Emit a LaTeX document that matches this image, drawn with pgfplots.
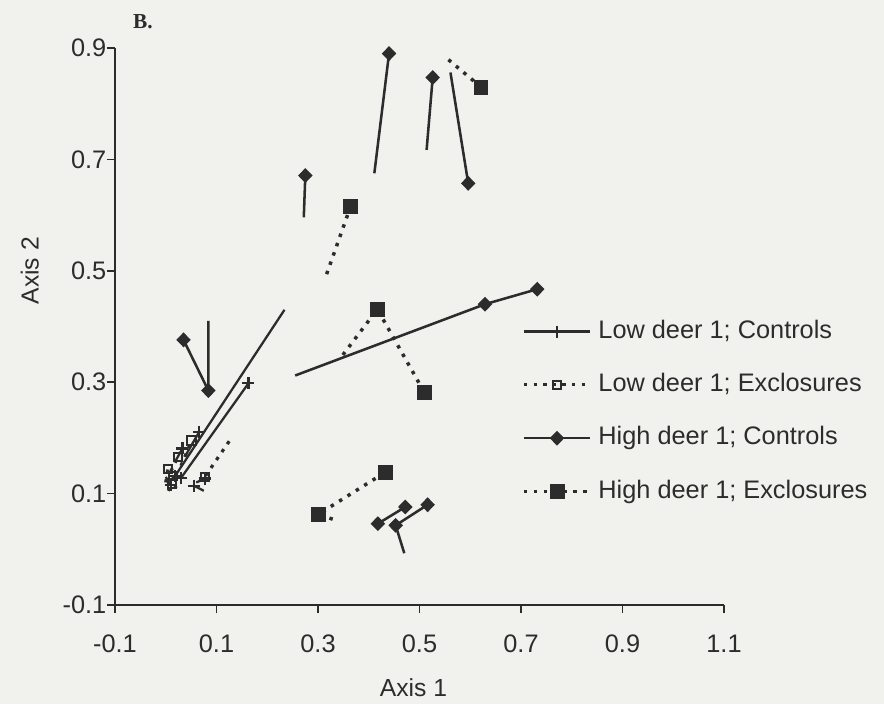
\documentclass[border=0pt]{standalone}
\usepackage{pgfplots}
\pgfplotsset{compat=1.18}
\usepackage{fontspec}
\setmainfont{Liberation Sans}
\newfontfamily\panelfont{Liberation Serif}
\definecolor{ink}{RGB}{44,44,44}
\definecolor{paper}{RGB}{241,241,238}

\pgfplotsset{
  lowc/.style={ink, solid, line width=1.7pt, mark=+, mark size=4.5pt,
    mark options={solid, line width=1.6pt}},
  lowe/.style={ink, line width=2.4pt, dash pattern=on 2.6pt off 4.6pt,
    mark=square, mark size=3.2pt, mark options={solid, line width=1.5pt, fill=white}},
  highc/.style={ink, solid, line width=1.9pt, mark=diamond*, mark size=5pt,
    mark options={solid, line width=0.8pt, fill=ink, xscale=1.3}},
  highe/.style={ink, line width=2.6pt, dash pattern=on 2.6pt off 4.8pt,
    mark=square*, mark size=5.2pt, mark options={solid, line width=0.6pt, fill=ink}},
}

\begin{document}
\begin{tikzpicture}
\path[use as bounding box, fill=paper] (0,0) rectangle (663pt,528pt);
\begin{axis}[
  at={(86.25pt,74.25pt)}, anchor=south west,
  scale only axis, width=456.75pt, height=417.75pt,
  xmin=-0.1, xmax=1.1, ymin=-0.1, ymax=0.9,
  axis x line=bottom, axis y line=left,
  axis line style={-, line width=1.6pt, ink},
  xtick={-0.1,0.1,0.3,0.5,0.7,0.9,1.1},
  xticklabels={-0.1,0.1,0.3,0.5,0.7,0.9,1.1},
  ytick={-0.1,0.1,0.3,0.5,0.7,0.9},
  yticklabels={-0.1,0.1,0.3,0.5,0.7,0.9},
  tick align=outside, major tick length=6pt,
  tick style={line width=1.3pt, ink},
  ticklabel style={font=\fontsize{19}{22}\selectfont, text=ink},
  xticklabel style={yshift=-13pt},
  yticklabel style={xshift=3pt},
  xlabel={Axis 1}, ylabel={Axis 2},
  label style={font=\fontsize{18.5}{22}\selectfont, text=ink},
  xlabel style={at={(axis description cs:0.49,-0.149)}, anchor=center},
  ylabel style={at={(axis description cs:-0.14,0.6)}, anchor=center},
  clip=false,
  legend style={at={(axis cs:0.702,0.413)}, anchor=north west, draw=none, fill=none,
    font=\fontsize{19}{22}\selectfont, text=ink, inner sep=0pt,
    nodes={inner sep=0pt, text height=14pt, text depth=4pt},
    row sep=22pt, column sep=5pt},
  legend cell align=left,
  legend image code/.code={
    \draw[#1, mark indices={2}] plot coordinates {(0pt,0pt) (24.75pt,0pt) (49.5pt,0pt)};},
]

% Low deer, controls
\addplot[lowc, mark indices={2}] coordinates {(0.234,0.430) (0.018,0.131)};
\addlegendentry{Low deer 1; Controls}
% Low deer, exclosures
\addplot[lowe, mark indices={2}] coordinates {(0.125,0.194) (0.077,0.130)};
\addlegendentry{Low deer 1; Exclosures}
% High deer, controls
\addplot[highc, mark indices={2}] coordinates {(0.411,0.675) (0.440,0.890)};
\addlegendentry{High deer 1; Controls}
% High deer, exclosures
\addplot[highe, mark indices={2}] coordinates {(0.557,0.879) (0.621,0.830)};
\addlegendentry{High deer 1; Exclosures}

% remaining low deer control plots
\addplot[lowc, mark indices={1,2}, forget plot] coordinates {(0.163,0.298) (0.030,0.128)};
\addplot[lowc, mark indices={2}, forget plot] coordinates {(0.040,0.170) (0.066,0.211)};
\addplot[lowc, mark indices={2}, forget plot] coordinates {(0.020,0.160) (0.033,0.181)};
\addplot[lowc, mark indices={2}, forget plot] coordinates {(0.075,0.105) (0.056,0.114)};
\addplot[lowc, mark indices={2}, forget plot] coordinates {(0.060,0.120) (0.078,0.127)};
\addplot[lowc, mark indices={2}, forget plot] coordinates {(0.000,0.130) (0.010,0.115)};

% remaining low deer exclosure plots
\addplot[lowe, mark indices={2}, forget plot] coordinates {(0.030,0.150) (0.051,0.195)};
\addplot[lowe, mark indices={2}, forget plot] coordinates {(0.010,0.140) (0.024,0.166)};
\addplot[lowe, mark indices={2}, forget plot] coordinates {(0.000,0.120) (0.004,0.144)};
\addplot[lowe, mark indices={2}, forget plot] coordinates {(0.020,0.110) (0.014,0.132)};
\addplot[lowe, mark indices={2}, forget plot] coordinates {(0.005,0.105) (0.012,0.118)};

% remaining high deer control plots
\addplot[highc, mark indices={2}, forget plot] coordinates {(0.514,0.717) (0.526,0.847)};
\addplot[highc, mark indices={2}, forget plot] coordinates {(0.561,0.856) (0.596,0.657)};
\addplot[highc, mark indices={2}, forget plot] coordinates {(0.272,0.596) (0.275,0.671)};
\addplot[highc, mark indices={2,3}, forget plot] coordinates {(0.255,0.312) (0.629,0.440) (0.732,0.467)};
\addplot[highc, mark indices={2,3}, forget plot] coordinates {(0.084,0.410) (0.084,0.285) (0.035,0.376)};
\addplot[highc, mark indices={2,3}, forget plot] coordinates {(0.470,-0.007) (0.453,0.043) (0.516,0.080)};
\addplot[highc, mark indices={1,2}, forget plot] coordinates {(0.418,0.046) (0.472,0.076)};

% remaining high deer exclosure plots
\addplot[highe, mark indices={2}, forget plot] coordinates {(0.317,0.494) (0.364,0.615)};
\addplot[highe, mark indices={2,3}, forget plot] coordinates {(0.349,0.349) (0.417,0.431) (0.510,0.281)};
\addplot[highe, mark indices={2,3}, forget plot] coordinates {(0.329,0.054) (0.301,0.063) (0.432,0.138)};
\end{axis}
\node[font=\panelfont\bfseries\fontsize{16}{18}\selectfont, text=ink] at (107.25pt,511.5pt) {B.};
\end{tikzpicture}
\end{document}
